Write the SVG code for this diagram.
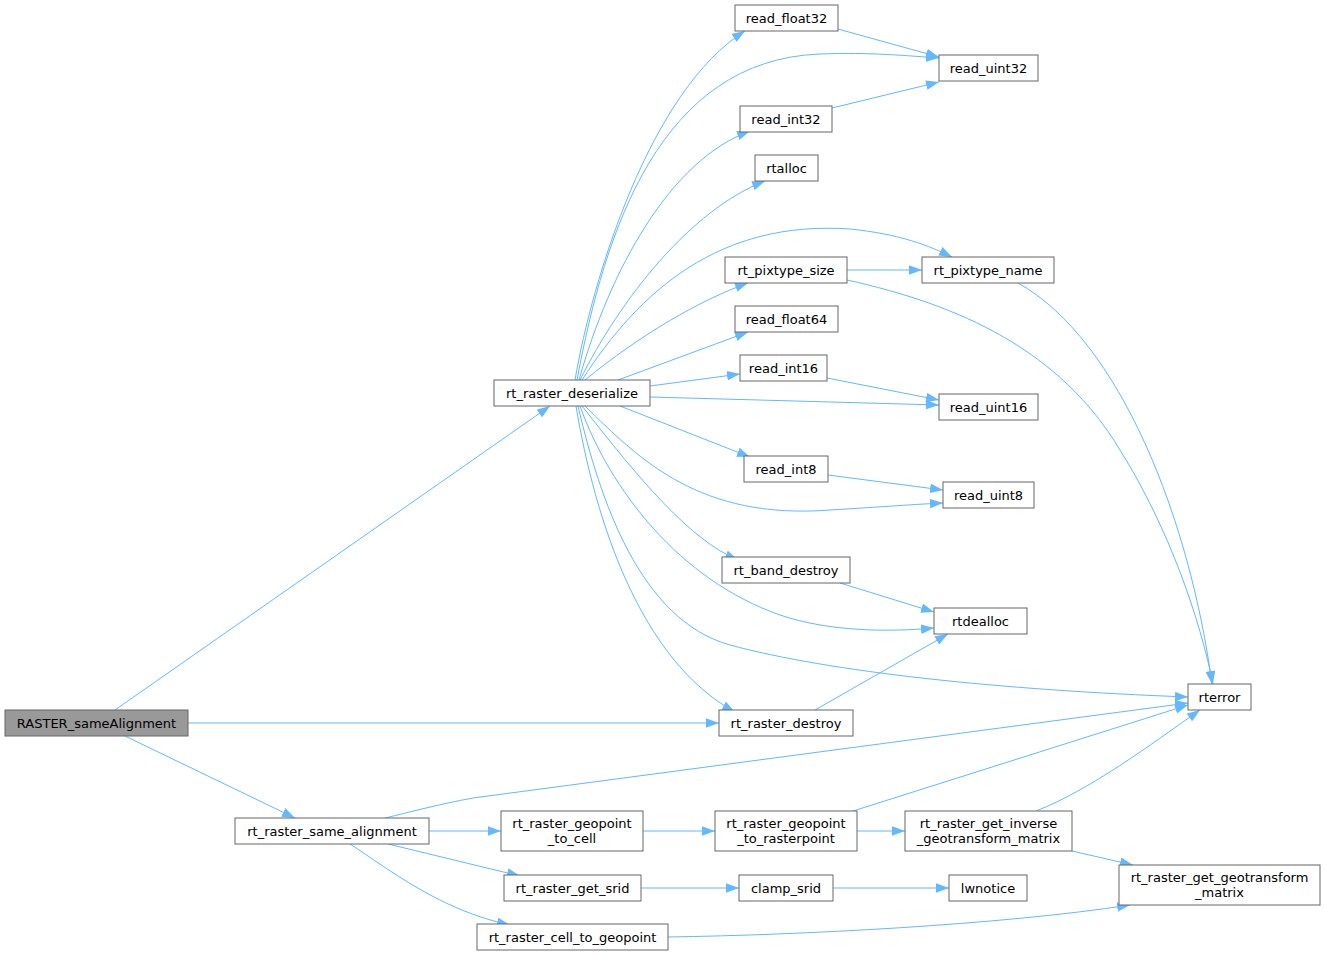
<svg xmlns="http://www.w3.org/2000/svg" width="1325" height="956" viewBox="0 0 1325 956">
<style>
.n rect{fill:#ffffff;stroke:#666666;stroke-width:1}
.n.root rect{fill:#999999}
.n text{font-family:"DejaVu Sans",sans-serif;font-size:13px;fill:#000000;text-anchor:middle}
.e path{fill:none;stroke:#63b8ff;stroke-width:1;marker-end:url(#ah)}
</style>
<defs>
<marker id="ah" viewBox="0 0 13 9.5" refX="13" refY="4.75" markerWidth="13" markerHeight="9.5" markerUnits="userSpaceOnUse" orient="auto">
<polygon points="0,0 13,4.75 0,9.5" fill="#63b8ff"/>
</marker>
</defs>
<rect width="1325" height="956" fill="#ffffff"/>
<g id="edges" class="e">
<path d="M115,710 L550,406"/>
<path d="M188,723 L719,723"/>
<path d="M125,736 L295,818"/>
<path d="M575,380 C592,280 650,90 745,31"/>
<path d="M577,380 C605,230 660,60 820,54 C870,52 910,56 939,58"/>
<path d="M579,380 C610,270 670,160 750,131"/>
<path d="M580,380 C620,300 690,210 765,181"/>
<path d="M582,380 C640,290 720,220 850,229 C900,234 930,246 952,257"/>
<path d="M585,380 C640,335 700,300 748,283"/>
<path d="M618,380 L748,332"/>
<path d="M650,386 L740,374"/>
<path d="M650,397 L939,405"/>
<path d="M620,406 L750,457"/>
<path d="M585,406 C640,460 700,520 830,510 C880,507 920,504 943,503"/>
<path d="M582,406 C640,480 690,540 738,560"/>
<path d="M580,406 C610,490 680,580 780,615 C830,632 890,632 934,628"/>
<path d="M578,406 C600,500 640,620 730,645 C830,672 1000,690 1188,697"/>
<path d="M576,406 C595,520 640,660 735,712"/>
<path d="M838,29 L939,57"/>
<path d="M832,108 L939,82"/>
<path d="M847,270 L922,270"/>
<path d="M847,280 C960,305 1060,350 1120,450 C1170,530 1200,620 1213,684"/>
<path d="M1018,283 C1120,340 1190,520 1212,684"/>
<path d="M827,378 L939,400"/>
<path d="M828,475 L943,490"/>
<path d="M840,583 L934,612"/>
<path d="M815,710 L948,634"/>
<path d="M385,818 C410,812 440,804 473,798 L1188,703"/>
<path d="M429,831 L501,831"/>
<path d="M388,844 L520,876"/>
<path d="M350,844 C390,870 440,910 510,925"/>
<path d="M643,831 L715,831"/>
<path d="M853,811 L1188,705"/>
<path d="M857,831 L905,831"/>
<path d="M1036,811 C1090,790 1150,745 1200,710"/>
<path d="M1072,851 L1133,865"/>
<path d="M641,888 L739,888"/>
<path d="M833,888 L949,888"/>
<path d="M668,937 C800,935 1000,925 1130,905"/>
</g>
<g id="n_RASTER_sameAlignment" class="n root"><rect x="5" y="710" width="183" height="26"/><text x="96.5" y="727.5">RASTER_sameAlignment</text></g>
<g id="n_rt_raster_deserialize" class="n"><rect x="494" y="380" width="156" height="26"/><text x="572" y="397.5">rt_raster_deserialize</text></g>
<g id="n_read_float32" class="n"><rect x="735" y="5" width="103" height="26"/><text x="786.5" y="22.5">read_float32</text></g>
<g id="n_read_uint32" class="n"><rect x="939" y="55" width="99" height="26"/><text x="988.5" y="72.5">read_uint32</text></g>
<g id="n_read_int32" class="n"><rect x="740" y="106" width="92" height="26"/><text x="786" y="123.5">read_int32</text></g>
<g id="n_rtalloc" class="n"><rect x="755" y="155" width="63" height="26"/><text x="786.5" y="172.5">rtalloc</text></g>
<g id="n_rt_pixtype_size" class="n"><rect x="725" y="257" width="122" height="26"/><text x="786" y="274.5">rt_pixtype_size</text></g>
<g id="n_rt_pixtype_name" class="n"><rect x="922" y="257" width="132" height="26"/><text x="988" y="274.5">rt_pixtype_name</text></g>
<g id="n_read_float64" class="n"><rect x="735" y="306" width="103" height="26"/><text x="786.5" y="323.5">read_float64</text></g>
<g id="n_read_int16" class="n"><rect x="740" y="355" width="87" height="26"/><text x="783.5" y="372.5">read_int16</text></g>
<g id="n_read_uint16" class="n"><rect x="939" y="394" width="99" height="26"/><text x="988.5" y="411.5">read_uint16</text></g>
<g id="n_read_int8" class="n"><rect x="744" y="456" width="84" height="26"/><text x="786" y="473.5">read_int8</text></g>
<g id="n_read_uint8" class="n"><rect x="943" y="482" width="91" height="26"/><text x="988.5" y="499.5">read_uint8</text></g>
<g id="n_rt_band_destroy" class="n"><rect x="722" y="557" width="128" height="26"/><text x="786" y="574.5">rt_band_destroy</text></g>
<g id="n_rtdealloc" class="n"><rect x="934" y="608" width="93" height="26"/><text x="980.5" y="625.5">rtdealloc</text></g>
<g id="n_rterror" class="n"><rect x="1188" y="684" width="63" height="26"/><text x="1219.5" y="701.5">rterror</text></g>
<g id="n_rt_raster_destroy" class="n"><rect x="719" y="710" width="134" height="26"/><text x="786" y="727.5">rt_raster_destroy</text></g>
<g id="n_rt_raster_same_alignment" class="n"><rect x="235" y="818" width="194" height="26"/><text x="332" y="835.5">rt_raster_same_alignment</text></g>
<g id="n_rt_raster_geopoint_to_cell" class="n"><rect x="501" y="811" width="142" height="40"/><text x="572" y="828">rt_raster_geopoint</text><text x="572" y="843">_to_cell</text></g>
<g id="n_rt_raster_geopoint_to_rasterpoint" class="n"><rect x="715" y="811" width="142" height="40"/><text x="786" y="828">rt_raster_geopoint</text><text x="786" y="843">_to_rasterpoint</text></g>
<g id="n_rt_raster_get_inverse_geotransform_matrix" class="n"><rect x="905" y="811" width="167" height="40"/><text x="988.5" y="828">rt_raster_get_inverse</text><text x="988.5" y="843">_geotransform_matrix</text></g>
<g id="n_rt_raster_get_srid" class="n"><rect x="504" y="875" width="137" height="26"/><text x="572.5" y="892.5">rt_raster_get_srid</text></g>
<g id="n_clamp_srid" class="n"><rect x="739" y="875" width="94" height="26"/><text x="786" y="892.5">clamp_srid</text></g>
<g id="n_lwnotice" class="n"><rect x="949" y="875" width="78" height="26"/><text x="988" y="892.5">lwnotice</text></g>
<g id="n_rt_raster_get_geotransform_matrix" class="n"><rect x="1119" y="865" width="201" height="40"/><text x="1219.5" y="882">rt_raster_get_geotransform</text><text x="1219.5" y="897">_matrix</text></g>
<g id="n_rt_raster_cell_to_geopoint" class="n"><rect x="477" y="924" width="191" height="26"/><text x="572.5" y="941.5">rt_raster_cell_to_geopoint</text></g>
</svg>
